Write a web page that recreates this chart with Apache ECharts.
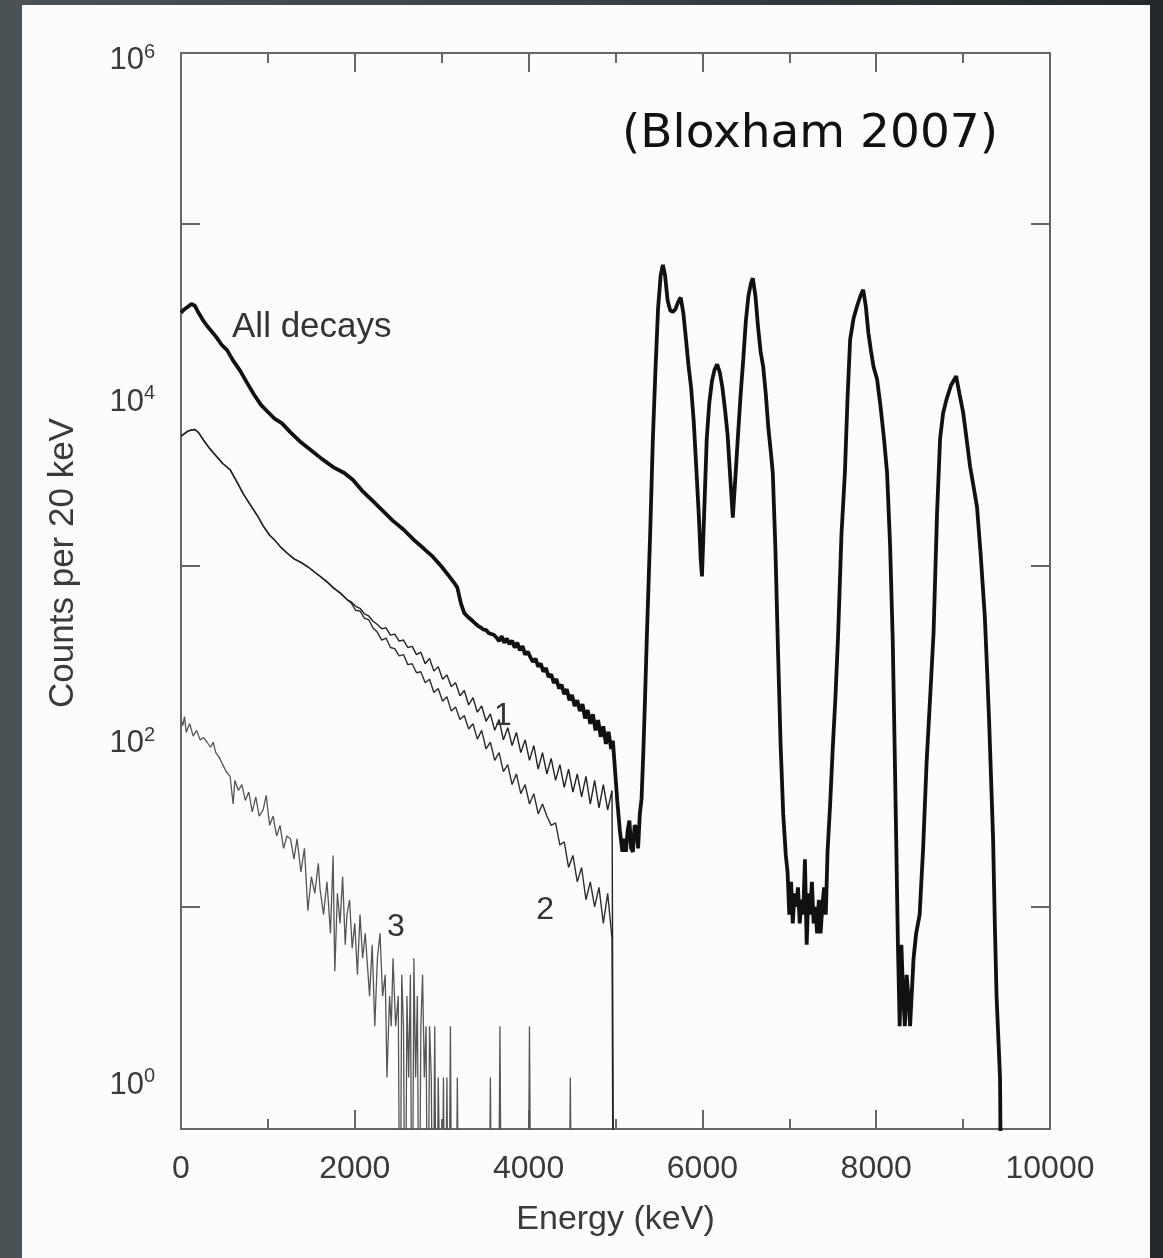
<!DOCTYPE html>
<html><head><meta charset="utf-8">
<script src="https://cdn.jsdelivr.net/npm/echarts@6/dist/echarts.min.js"></script>
<style>
html,body{margin:0;padding:0;width:1163px;height:1258px;overflow:hidden;background:#3c4246;}
#bg{position:absolute;left:0;top:0;width:1163px;height:1258px;background:linear-gradient(90deg,#4b5256 0%,#3b4145 50%,#24282b 100%);}
#panel{position:absolute;left:22px;top:5px;width:1128px;height:1253px;background:#fbfdfc;}
#chart{position:absolute;left:0;top:0;width:1163px;height:1258px;}
</style></head><body>
<div id="bg"></div><div id="panel"></div><div id="chart"></div>
<script>
// ---- data (energy keV, counts per 20 keV) ----
const ALL_DECAYS = [[0,30200],[40,31600],[80,32700],[120,33900],[160,33100],[200,30200],[260,26900],[320,24500],[400,21900],[470,19500],[530,18200],[600,15800],[680,13800],[760,11700],[840,10000],[920,8700],[1000,7900],[1080,7200],[1160,6800],[1260,6000],[1380,5250],[1500,4700],[1620,4200],[1750,3760],[1880,3470],[1980,3160],[2080,2750],[2200,2400],[2320,2090],[2440,1820],[2560,1620],[2680,1410],[2800,1245],[2900,1120],[3000,980],[3080,870],[3140,795],[3180,740],[3220,600],[3260,525],[3300,500],[3360,470],[3420,440],[3450,432],[3480,420],[3510,418],[3540,402],[3570,396],[3600,392],[3630,378],[3660,360],[3690,385],[3720,352],[3750,372],[3780,345],[3810,362],[3840,330],[3870,352],[3900,318],[3930,336],[3960,300],[3990,312],[4020,290],[4050,272],[4080,284],[4110,255],[4140,266],[4170,238],[4200,250],[4230,222],[4260,230],[4290,205],[4320,216],[4350,190],[4380,200],[4410,176],[4440,188],[4470,162],[4500,174],[4530,150],[4560,162],[4590,140],[4620,154],[4650,127],[4680,142],[4710,118],[4740,134],[4770,108],[4800,124],[4830,99],[4860,114],[4890,90],[4920,106],[4950,84],[4970,94],[4990,68],[5020,42],[5050,28],[5080,21],[5100,25],[5120,21],[5140,28],[5160,32],[5180,22],[5200,21],[5220,30],[5240,29],[5260,22],[5280,35],[5300,43],[5320,80],[5340,166],[5360,370],[5400,1600],[5430,5500],[5460,14000],[5490,32000],[5520,50000],[5545,57500],[5570,50000],[5600,35500],[5630,31000],[5660,30500],[5690,31600],[5720,34700],[5750,37000],[5780,30200],[5810,21400],[5840,14800],[5870,11000],[5900,7000],[5930,3700],[5960,1900],[5980,1100],[5995,860],[6020,2000],[6050,5500],[6080,9000],[6110,12000],[6140,14000],[6170,15000],[6200,13500],[6230,11000],[6260,8200],[6290,5800],[6320,3300],[6350,1900],[6380,3300],[6410,5800],[6440,10000],[6470,16000],[6500,27000],[6530,38000],[6560,45000],[6580,48000],[6610,38000],[6640,25000],[6670,17800],[6700,14500],[6730,10000],[6760,6300],[6790,4470],[6810,3470],[6840,1260],[6870,316],[6900,89],[6930,35],[6960,20],[6980,16],[7000,9],[7020,14],[7040,8],[7060,12],[7080,10],[7100,13],[7120,8],[7140,11],[7160,9],[7180,19],[7200,6],[7220,12],[7240,9],[7260,14],[7280,8],[7300,10],[7320,7],[7340,11],[7360,7],[7380,10],[7400,13],[7420,9],[7440,21],[7470,40],[7500,85],[7530,165],[7560,370],[7600,1500],[7640,3500],[7670,9500],[7700,21000],[7740,28000],[7780,33000],[7820,38000],[7850,41000],[7880,33000],[7910,23000],[7940,18000],[7970,14500],[8010,12300],[8050,8500],[8090,5500],[8125,3500],[8160,1300],[8190,370],[8210,100],[8230,25],[8250,6],[8270,2],[8290,6],[8310,3],[8330,2],[8350,4],[8370,3],[8390,2],[8410,2],[8430,5],[8460,7],[8500,9],[8540,22],[8580,70],[8620,166],[8660,400],[8700,2000],[8735,5500],[8770,7800],[8810,9400],[8860,11300],[8920,12800],[8960,10000],[9000,7900],[9040,5500],[9080,3800],[9120,2900],[9160,2200],[9200,1200],[9250,500],[9275,250],[9300,120],[9320,60],[9345,25],[9365,8],[9385,3],[9405,3],[9425,1],[9445,0]];

const SERIES_1 = [[0,5700],[40,5900],[80,6100],[120,6200],[160,6240],[200,6000],[260,5400],[320,4900],[400,4400],[480,3950],[565,3630],[640,3100],[720,2600],[800,2250],[880,1950],[945,1700],[1020,1500],[1080,1400],[1140,1290],[1220,1180],[1300,1090],[1380,1040],[1460,980],[1540,910],[1600,863],[1680,800],[1750,740],[1830,690],[1910,630],[1960,610],[2010,575],[2060,560],[2110,520],[2160,505],[2210,470],[2260,450],[2310,425],[2360,430],[2410,390],[2460,395],[2510,360],[2560,365],[2610,330],[2660,335],[2710,300],[2760,310],[2810,265],[2860,285],[2910,240],[2960,255],[3010,215],[3060,228],[3110,195],[3160,205],[3210,172],[3260,185],[3310,152],[3360,168],[3410,138],[3460,150],[3510,122],[3560,135],[3610,108],[3660,125],[3710,95],[3760,112],[3810,88],[3860,105],[3910,80],[3960,95],[4010,72],[4060,88],[4110,64],[4160,80],[4210,60],[4260,74],[4310,55],[4360,68],[4410,50],[4460,64],[4510,47],[4560,60],[4610,44],[4660,58],[4710,40],[4760,55],[4810,38],[4860,52],[4910,37],[4960,48],[4980,0]];

const SERIES_2 = [[0,5700],[40,5900],[80,6100],[120,6200],[160,6240],[200,6000],[260,5400],[320,4900],[400,4400],[480,3950],[565,3630],[640,3100],[720,2600],[800,2250],[880,1950],[945,1700],[1020,1500],[1080,1400],[1140,1290],[1220,1180],[1300,1090],[1380,1040],[1460,980],[1540,910],[1600,863],[1680,800],[1750,740],[1830,690],[1910,630],[1960,600],[2010,545],[2060,540],[2110,490],[2160,480],[2210,430],[2260,405],[2310,365],[2360,375],[2410,330],[2460,325],[2510,295],[2560,300],[2610,262],[2660,265],[2710,235],[2760,238],[2810,205],[2860,215],[2910,180],[2960,190],[3010,160],[3060,170],[3110,140],[3160,148],[3210,125],[3260,132],[3310,110],[3360,118],[3410,96],[3460,108],[3510,84],[3560,92],[3610,72],[3660,80],[3710,62],[3760,68],[3810,52],[3860,60],[3910,46],[3960,52],[4010,40],[4060,46],[4110,35],[4160,40],[4210,34],[4260,30],[4310,31],[4360,23],[4410,24],[4460,17],[4510,20],[4560,14],[4610,17],[4660,11],[4710,14],[4760,10],[4810,13],[4860,8],[4910,12],[4960,6.5],[4975,0]];

const SERIES_3 = [[0,125],[20,115],[40,130],[60,105],[80,112],[100,118],[140,100],[180,108],[220,95],[260,98],[300,92],[340,86],[370,92],[400,80],[440,75],[480,68],[520,62],[565,58],[600,40],[620,55],[660,48],[700,52],[740,42],[780,47],[820,36],[860,44],[900,34],[945,37],[980,45],[1020,30],[1060,34],[1100,26],[1140,30],[1180,22],[1220,26],[1260,25],[1300,19],[1335,25],[1380,16],[1420,22],[1460,9.5],[1500,15],[1540,12],[1580,18],[1600,12.7],[1640,9],[1680,14],[1720,7],[1750,20],[1770,4.2],[1800,12],[1830,8],[1860,15],[1890,6],[1910,9],[1940,11],[1970,5.7],[2000,8],[2030,4],[2060,9],[2090,5],[2120,7],[2140,5],[2170,3],[2200,6],[2230,2],[2260,5],[2290,7],[2320,3],[2350,4],[2370,1],[2400,3],[2420,2],[2440,5],[2470,2],[2500,3],[2520,0],[2540,4],[2560,2],[2580,0],[2600,3],[2620,1],[2640,4],[2660,0],[2680,5],[2700,1],[2720,3],[2740,0],[2760,2],[2780,4],[2800,1],[2820,2],[2840,0],[2860,2],[2880,1],[2900,0],[2920,2],[2940,0],[2960,1],[2980,1],[3000,0],[3020,1],[3040,0],[3060,1],[3080,0],[3100,2],[3120,0],[3160,0],[3180,1],[3200,0],[3540,0],[3560,1],[3580,0],[3650,0],[3670,2],[3690,0],[3990,0],[4010,2],[4030,0],[4460,0],[4480,1],[4500,0],[4960,0]];

// ---- axes ticks/labels ----
const X_MIN = 0, X_MAX = 10000, X_STEP = 2000;
const Y_MIN = 0.5, Y_MAX = 1000000;
const Y_LABEL_VALUES = [1, 100, 10000, 1000000];
const Y_TICK_VALUES = [10, 1000, 100000];

// ---- annotations ----
const NOTE_TEXTS = ['All decays', '1', '2', '3'];
const NOTE_POS = [[587, 24660], [3705, 131], [4189, 9.5], [2474, 7.6]];
const SOURCE_TEXT = '(Bloxham 2007)';
const SOURCE_POS = [5075, 330000];

const FONT = '"Liberation Sans", Arial, Helvetica, sans-serif';
const AX = '#666';
const TXT = '#3a3a3a';
const LOG_FLOOR = 0.05; // zero counts drawn below axis minimum

const chart = echarts.init(document.getElementById('chart'), null, {renderer: 'canvas'});

const floorData = arr => arr.map(p => [p[0], p[1] > 0 ? p[1] : LOG_FLOOR]);
const lineStyleAx = {color: AX, width: 2};

function xAx(pos, showLabel) {
  return {
    type: 'value', position: pos, min: X_MIN, max: X_MAX, interval: X_STEP,
    axisLine: {show: true, onZero: false, lineStyle: lineStyleAx},
    axisTick: {show: true, inside: true, length: 19, lineStyle: lineStyleAx},
    minorTick: {show: true, splitNumber: 2, length: 10, lineStyle: lineStyleAx},
    splitLine: {show: false}, minorSplitLine: {show: false},
    axisLabel: {show: showLabel, fontSize: 32, fontFamily: FONT, color: TXT, margin: 24,
      formatter: v => String(v)},
    name: showLabel ? 'Energy (keV)' : '', nameLocation: 'middle', nameGap: 74,
    nameTextStyle: {fontSize: 34, fontFamily: FONT, color: TXT}
  };
}
function yAx(pos, showLabel) {
  return {
    type: 'log', logBase: 10, position: pos, min: Y_MIN, max: Y_MAX,
    axisLine: {show: true, onZero: false, lineStyle: lineStyleAx},
    axisTick: {show: true, inside: true, length: 19, lineStyle: lineStyleAx, customValues: Y_TICK_VALUES},
    minorTick: {show: false}, splitLine: {show: false},
    axisLabel: {
      show: showLabel, customValues: Y_LABEL_VALUES, margin: 26, padding: [12, 0, 0, 0],
      formatter: v => '{b|10}{s|' + Math.round(Math.log10(v)) + '}',
      rich: {
        b: {fontSize: 31, fontFamily: FONT, color: TXT, lineHeight: 34, verticalAlign: 'bottom'},
        s: {fontSize: 20, fontFamily: FONT, color: TXT, lineHeight: 20, verticalAlign: 'top'}
      }
    },
    name: showLabel ? 'Counts per 20 keV' : '', nameLocation: 'middle', nameGap: 100, nameRotate: 90,
    nameTextStyle: {fontSize: 35, fontFamily: FONT, color: TXT, padding: [0, 0, 0, 56]}
  };
}

const mkLine = (name, data, color, width) => ({
  name, type: 'line', data: floorData(data), xAxisIndex: 0, yAxisIndex: 0,
  showSymbol: false, symbol: 'none', clip: true, smooth: false,
  lineStyle: {color, width}, emphasis: {disabled: true}
});

chart.setOption({
  animation: false,
  backgroundColor: 'transparent',
  grid: {left: 181, right: 113, top: 53, bottom: 129, containLabel: false},
  xAxis: [xAx('bottom', true), xAx('top', false)],
  yAxis: [yAx('left', true), yAx('right', false)],
  series: [
    mkLine('3', SERIES_3, '#555555', 1.3),
    mkLine('2', SERIES_2, '#2e2e2e', 1.4),
    mkLine('1', SERIES_1, '#222222', 1.4),
    mkLine('All decays', ALL_DECAYS, '#111111', 3.8)
  ]
});

const graphics = NOTE_TEXTS.map((t, i) => {
  const p = chart.convertToPixel({gridIndex: 0}, NOTE_POS[i]);
  return {type: 'text', x: p[0], y: p[1], z: 100,
    style: {text: t, fontSize: i === 0 ? 35 : 32, fontFamily: FONT, fill: '#333',
      align: i === 0 ? 'left' : 'center', verticalAlign: 'middle',
      textAlign: i === 0 ? 'left' : 'center', textVerticalAlign: 'middle'}};
});
const sp = chart.convertToPixel({gridIndex: 0}, SOURCE_POS);
graphics.push({type: 'text', x: sp[0], y: sp[1], z: 100,
  style: {text: SOURCE_TEXT, fontSize: 47, fontFamily: '"DejaVu Sans", Verdana, sans-serif', fill: '#111',
    align: 'left', verticalAlign: 'middle', textAlign: 'left', textVerticalAlign: 'middle'}});
chart.setOption({graphic: graphics});
</script></body></html>
